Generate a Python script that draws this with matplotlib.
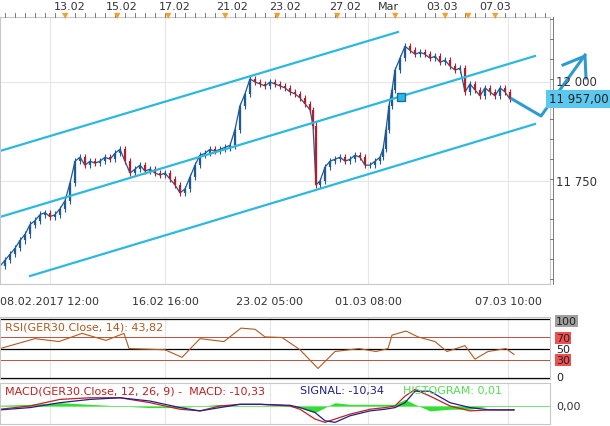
import matplotlib
matplotlib.use("Agg")
import matplotlib.pyplot as plt
import numpy as np

# price data (time index, close)
px = [0,5,10,15,20,25,30,35,40,45,50,55,60,65,70,75,80,85,90,95,100,105,110,115,120,125,130,135,140,145,
      150,155,160,165,170,175,180,185,190,195,200,205,210,215,220,225,230,235,240,245,250,255,260,265,270,
      275,280,285,290,295,300,305,310,313,316,320,325,330,335,340,345,350,355,360,365,370,375,380,383,386,
      389,392,395,400,405,410,415,420,425,430,435,440,445,450,455,460,465,470,475,480,485,490,495,500,505,510]
close = [11535,11550,11565,11580,11600,11615,11640,11650,11665,11670,11660,11665,11680,11700,11745,11800,
         11810,11790,11800,11795,11800,11810,11805,11820,11830,11800,11770,11780,11790,11775,11780,11770,
         11765,11770,11755,11740,11720,11730,11760,11790,11815,11820,11830,11825,11830,11835,11840,11880,
         11940,11970,12008,12000,11995,11990,12000,11995,11990,11985,11975,11970,11960,11945,11930,11890,
         11740,11750,11785,11800,11805,11810,11800,11805,11815,11810,11790,11790,11800,11810,11830,11880,
         11940,11980,12030,12060,12090,12080,12070,12075,12070,12060,12065,12050,12055,12040,12030,12035,
         11975,11995,11980,11965,11985,11975,11965,11985,11975,11957]

rsi_x = [0,35,59,82,106,124,129,165,182,200,224,241,255,265,282,300,318,335,359,376,388,392,406,418,435,447,465,475,488,506,514]
rsi = [50,67,62,76,64,76,50,48,35,67,62,85,83,70,69,48,16,45,50,45,50,73,80,70,62,45,55,32,45,50,40]

m_x = [0,30,60,90,120,150,180,200,220,240,260,290,300,315,325,335,350,370,385,395,405,415,430,450,470,490,514]
macd = [-1,0,2,2.5,2.5,1,-1,-1.5,0,0.5,0.5,0,-1,-4,-5,-4,-2.5,-1,-0.5,0,3,5,3,0,-1.5,-1.2,-1.2]
signal = [-1.2,-0.5,1,2,2.5,1.5,-0.5,-1.5,-0.5,0.5,0.5,0.2,-0.5,-2,-4.5,-5,-3,-1.5,-1,-0.5,1,4.5,4.5,1,-0.5,-1.2,-1.2]

top_labels = ["13.02","15.02","17.02","21.02","23.02","27.02","Mar","03.03","07.03"]
top_pos = [70,122,175,232,285,345,388,442,495]
bottom_labels = ["08.02.2017 12:00","16.02 16:00","23.02 05:00","01.03 08:00","07.03 10:00"]
bottom_pos = [50,165,270,368,508]

W, H = 610, 427
fig = plt.figure(figsize=(6.1, 4.27), dpi=100)
fig.patch.set_facecolor("white")
def rect(l, t, r, b):
    return [l/W, 1-b/H, (r-l)/W, (b-t)/H]

XMAX = 550
def px2price(y):
    return 12000 + (83 - y) * 250/99

ax = fig.add_axes(rect(0, 18, 550, 285))
ax.set_xlim(0, XMAX)
ax.set_ylim(px2price(285), px2price(18))
for s in ax.spines.values():
    s.set_color("#c8c8c8")
ax.tick_params(left=False, labelleft=False, bottom=False, labelbottom=False)
for x in bottom_pos:
    ax.axvline(x, color="#e6e6e6", lw=0.8, zorder=0)
for y in [11750, 12000]:
    ax.axhline(y, color="#e6e6e6", lw=0.8, zorder=0)

# candles
opens = [close[0]] + close[:-1]
ax.plot(px, close, color="#1f5a96", lw=0.9, zorder=1)
for x, o, c in zip(px, opens, close):
    col = "#1f5a96" if c >= o else "#b0202a"
    lo, hi = min(o, c), max(o, c)
    ax.vlines(x, lo - 8, hi + 8, color=col, lw=0.8, zorder=2)
    ax.vlines(x, lo, hi, color=col, lw=1.6, zorder=2)

# channel lines
cc = "#2cb8e0"
ax.plot([0, 398], [px2price(152), px2price(33)], color=cc, lw=1.6)
ax.plot([0, 535], [px2price(218), px2price(57)], color=cc, lw=1.6)
ax.plot([30, 535], [px2price(277), px2price(125)], color=cc, lw=1.6)
ax.plot([401], [px2price(98)], marker="s", ms=6, mfc="#2cb8e0", mec="#1a6fa0")
# arrow
ac = "#2e9bd0"
ax.plot([512, 541, 585], [px2price(100), px2price(117), px2price(56)], color=ac, lw=2.2, clip_on=False)
ax.plot([563, 585, 586], [px2price(66), px2price(57), px2price(79)], color=ac, lw=2.2, clip_on=False)

# right price labels
fig.text(556/W, 1-83/H, "12 000", fontsize=8.5, va="center", color="#333")
fig.text(556/W, 1-182/H, "11 750", fontsize=8.5, va="center", color="#333")
fig.text(549/W, 1-100/H, "11 957,00", fontsize=8.5, va="center", color="#222",
         bbox=dict(boxstyle="square,pad=0.25", fc="#5bc8f0", ec="none"))
for y in range(20, 285, 20):
    fig.add_artist(plt.Line2D([550/W, 553/W], [1-y/H, 1-y/H], color="#666", lw=0.6))
fig.add_artist(plt.Line2D([553/W, 553/W], [1-18/H, 1-285/H], color="#666", lw=0.6))

# top labels and markers
for lab, x in zip(top_labels, top_pos):
    fig.text(x/W, 1-7/H, lab, fontsize=8, ha="center", va="center", color="#333")
for x in range(5, 550, 10):
    fig.add_artist(plt.Line2D([x/W, x/W], [1-14/H, 1-18/H], color="#666", lw=0.6))
for x in [65, 117, 168, 225, 277, 337, 395, 445, 468, 495]:
    fig.text(x/W, 1-16/H, "▼", fontsize=6, color="#f0a030", ha="center", va="center")
for lab, x in zip(bottom_labels, bottom_pos):
    fig.text(x/W, 1-302/H, lab, fontsize=8, ha="center", va="center", color="#333")

# RSI panel
ar = fig.add_axes(rect(0, 318, 550, 380))
ar.set_xlim(0, XMAX); ar.set_ylim(-2, 104)
for s in ar.spines.values(): s.set_color("#c8c8c8")
ar.tick_params(left=False, labelleft=False, bottom=False, labelbottom=False)
for x in bottom_pos:
    ar.axvline(x, color="#e6e6e6", lw=0.8, zorder=0)
for y in [0, 50, 100]:
    ar.axhline(y, color="black", lw=0.9)
for y in [30, 70]:
    ar.axhline(y, color="#c05040", lw=0.7)
ar.plot(rsi_x, rsi, color="#b05a20", lw=0.8)
ar.text(5, 96, "RSI(GER30.Close, 14): 43,82", fontsize=8, color="#b05a20", va="top")
rl = [(100, "#a0a0a0"), (70, "#f05050"), (50, "none"), (30, "#f05050"), (0, "none")]
for v, col in rl:
    y = 378 - v * 56/100
    kw = {} if col == "none" else dict(bbox=dict(boxstyle="square,pad=0.1", fc=col, ec="none"))
    fig.text(556/W, 1-y/H, str(v), fontsize=8, va="center", color="#222", **kw)

# MACD panel
am = fig.add_axes(rect(0, 384, 550, 425))
am.set_xlim(0, XMAX); am.set_ylim(-5.5, 7)
for s in am.spines.values(): s.set_color("#c8c8c8")
am.tick_params(left=False, labelleft=False, bottom=False, labelbottom=False)
for x in bottom_pos:
    am.axvline(x, color="#e6e6e6", lw=0.8, zorder=0)
am.axhline(0, color="#80e080", lw=0.8)
hist = [m - s for m, s in zip(macd, signal)]
am.fill_between(m_x, 0, hist, color="#30e030", lw=0)
am.plot(m_x, macd, color="#c02020", lw=0.9)
am.plot(m_x, signal, color="#20208a", lw=0.9)
am.text(5, 6.3, "MACD(GER30.Close, 12, 26, 9) -  MACD: -10,33", fontsize=8, color="#c02020", va="top")
am.text(300, 6.3, "SIGNAL: -10,34", fontsize=8, color="#20208a", va="top")
am.text(403, 6.3, "HISTOGRAM: 0,01", fontsize=8, color="#50e050", va="top")
fig.text(556/W, 1-407/H, "0,00", fontsize=8, va="center", color="#333")

fig.savefig("out.png", dpi=100)
